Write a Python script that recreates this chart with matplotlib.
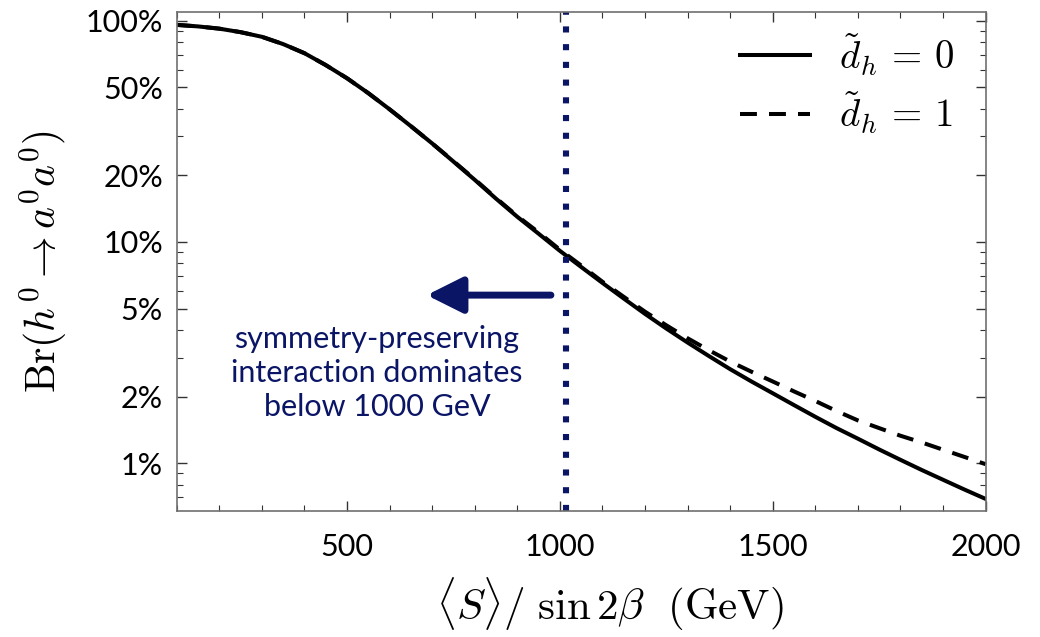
import numpy as np
import matplotlib.pyplot as plt
from matplotlib.ticker import FixedLocator, FuncFormatter, MultipleLocator

plt.rcParams.update({"mathtext.fontset": "cm", "font.family": ["Lato", "DejaVu Sans"]})

# ---- data ----
vev = [100, 150, 200, 250, 300, 350, 400, 450, 500, 550, 600, 650, 700, 750,
       800, 850, 900, 950, 1000, 1050, 1100, 1150, 1200, 1250, 1300, 1350,
       1400, 1450, 1500, 1550, 1600, 1650, 1700, 1750, 1800, 1850, 1900,
       1950, 2000]
br_d0 = [0.959, 0.944, 0.922, 0.889, 0.847, 0.785, 0.714, 0.631, 0.550, 0.471,
         0.398, 0.334, 0.279, 0.231, 0.191, 0.157, 0.130, 0.109, 0.0912,
         0.0771, 0.0653, 0.0555, 0.0473, 0.0406, 0.0351, 0.0305, 0.0266,
         0.0234, 0.0207, 0.0183, 0.0162, 0.0144, 0.0129, 0.01153, 0.01035,
         0.00931, 0.00841, 0.00760, 0.00689]
br_d1 = [0.959, 0.944, 0.922, 0.889, 0.847, 0.785, 0.714, 0.631, 0.550, 0.471,
         0.398, 0.334, 0.279, 0.232, 0.192, 0.158, 0.131, 0.1105, 0.0923,
         0.0783, 0.0661, 0.0565, 0.0484, 0.0420, 0.0367, 0.0324, 0.0288,
         0.0259, 0.0234, 0.0211, 0.0191, 0.0172, 0.0156, 0.0144, 0.0133,
         0.0124, 0.0115, 0.01067, 0.00989]
y_major = [0.01, 0.02, 0.05, 0.1, 0.2, 0.5, 1.0]
y_minor = [0.007, 0.008, 0.009, 0.03, 0.04, 0.06, 0.07, 0.08, 0.09,
           0.3, 0.4, 0.6, 0.7, 0.8, 0.9]
cut = 1015
NAVY = "#0b1566"
GRAY = "#707070"

fig = plt.figure(figsize=(10.4, 6.37), dpi=100)
ax = fig.add_axes([0.170, 0.198, 0.7776, 0.7836])

ax.plot(vev, br_d0, color="black", lw=2.9, label=r"$\tilde{d}_h\,=\,0$")
ax.plot(vev, br_d1, color="black", lw=2.9, dashes=(4.2, 3.0), label=r"$\tilde{d}_h\,=\,1$")
ax.axvline(cut, color=NAVY, lw=4.4, dashes=(1, 1.9), dash_capstyle="butt")

ax.annotate("", xy=(687, 0.0575), xytext=(979, 0.0575),
            arrowprops=dict(arrowstyle="-|>,head_length=1.1,head_width=0.55",
                            mutation_scale=20, lw=5, color=NAVY,
                            shrinkA=0, shrinkB=0))
ax.text(570, 0.0255, "symmetry-preserving\ninteraction dominates\nbelow 1000 GeV",
        color=NAVY, fontsize=22, ha="center", va="center",
        multialignment="center", linespacing=1.25)

ax.set_yscale("log")
ax.set_xlim(100, 2000)
ax.set_ylim(0.00608, 1.10)
ax.xaxis.set_major_locator(MultipleLocator(500))
ax.xaxis.set_minor_locator(MultipleLocator(100))
ax.yaxis.set_major_locator(FixedLocator(y_major))
ax.yaxis.set_minor_locator(FixedLocator(y_minor))
ax.yaxis.set_major_formatter(FuncFormatter(lambda v, p: f"{v*100:g}%"))
ax.yaxis.set_minor_formatter(FuncFormatter(lambda v, p: ""))
ax.tick_params(which="both", direction="in", top=True, right=True,
               color="#333333", labelsize=22)
ax.tick_params(which="major", length=7, width=1)
ax.tick_params(which="minor", length=4, width=0.8)
ax.tick_params(axis="x", pad=16)
ax.tick_params(axis="y", pad=10)
for s in ax.spines.values():
    s.set_color(GRAY)
    s.set_linewidth(1.2)

ax.set_xlabel(r"$\langle S\rangle/\ \sin 2\beta\ \ (\mathrm{GeV})$", fontsize=31, labelpad=10)
ax.xaxis.label.set_x(0.536)
ax.set_ylabel(r"$\mathrm{Br}(h^0 \rightarrow a^0 a^0)$", fontsize=30, labelpad=12)

ax.legend(loc="upper right", frameon=False, fontsize=28, handlelength=1.8,
          handletextpad=0.75, labelspacing=0.3, borderaxespad=0.1,
          bbox_to_anchor=(0.985, 1.0))

fig.savefig("out.png", dpi=100)
